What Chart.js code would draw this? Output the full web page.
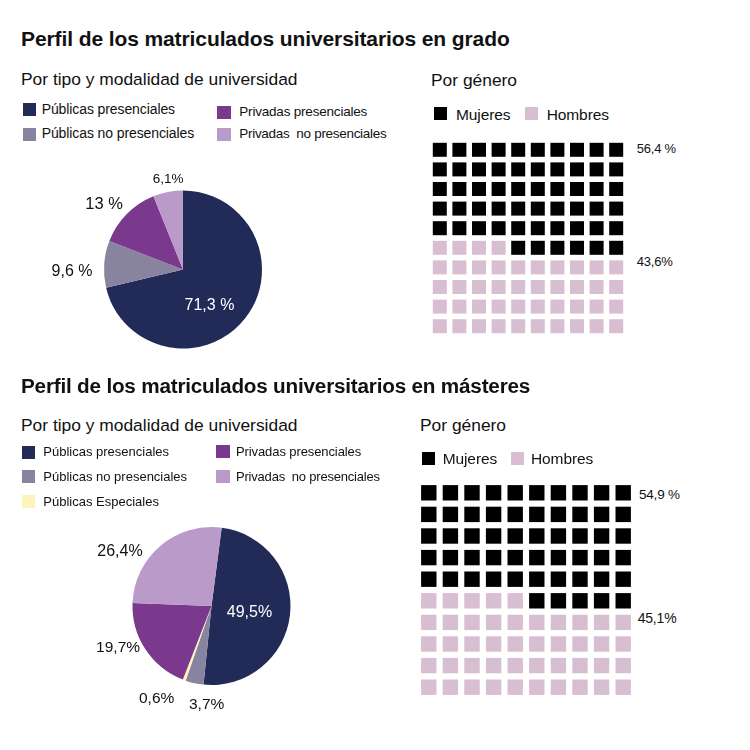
<!DOCTYPE html>
<html><head><meta charset="utf-8">
<script src="https://cdn.jsdelivr.net/npm/chart.js@4"></script>
<style>
body{margin:0;width:750px;height:750px;background:#fff;position:relative;font-family:"Liberation Sans",Arial,sans-serif;color:#111;overflow:hidden}
.t{position:absolute;white-space:pre;margin:0}
.sw{position:absolute}
canvas{position:absolute}
</style></head><body>
<canvas id="pie1" width="366" height="239" style="left:0;top:150px"></canvas>
<canvas id="pie2" width="423" height="240" style="left:0;top:486px"></canvas>
<canvas id="waf1" width="196" height="196" style="left:430px;top:140px"></canvas>
<canvas id="waf2" width="216" height="216" style="left:418px;top:482px"></canvas>
<script>
// ---- data ----
const titles = ['Perfil de los matriculados universitarios en grado','Perfil de los matriculados universitarios en másteres'];
const subTitle = 'Por tipo y modalidad de universidad';
const genderTitle = 'Por género';
const pieCats1 = ['Públicas presenciales','Públicas no presenciales','Privadas presenciales','Privadas  no presenciales'];
const pieVals1 = [71.3, 9.6, 13, 6.1];
const pieText1 = ['71,3 %','9,6 %','13 %','6,1%'];
const pieCats2 = ['Públicas presenciales','Públicas no presenciales','Públicas Especiales','Privadas presenciales','Privadas  no presenciales'];
const pieVals2 = [49.5, 3.7, 0.6, 19.7, 26.4];
const pieText2 = ['49,5%','3,7%','0,6%','19,7%','26,4%'];
const genderCats = ['Mujeres','Hombres'];
const gender1 = [56.4, 43.6];
const gender2 = [54.9, 45.1];
const genderText1 = ['56,4 %','43,6%'];
const genderText2 = ['54,9 %','45,1%'];

// ---- styles ----
const C = {navy:'#222b58',gray:'#88839f',purple:'#7a398d',light:'#b99ac9',yellow:'#fdf3bd',black:'#000000',pink:'#d7bed1'};
const pieCols1 = [C.navy,C.gray,C.purple,C.light];
const pieCols2 = [C.navy,C.gray,C.yellow,C.purple,C.light];
const genderCols = [C.black,C.pink];

function txt(s,x,base,fs,opt={}){
  const d=document.createElement('div');d.className='t';d.textContent=s;
  const lh=fs*1.15;
  d.style.font=(opt.bold?'bold ':'')+fs+'px "Liberation Sans",Arial,sans-serif';
  d.style.lineHeight=lh+'px';
  d.style.left=x+'px';
  d.style.top=(base-0.905*fs-(lh-1.117*fs)/2)+'px';
  if(opt.ls!==undefined)d.style.letterSpacing=opt.ls+'px';
  if(opt.color)d.style.color=opt.color;
  document.body.appendChild(d);
}
function sq(x,y,w,h,c){const d=document.createElement('div');d.className='sw';
  Object.assign(d.style,{left:x+'px',top:y+'px',width:w+'px',height:h+'px',background:c});document.body.appendChild(d);}

// headings
txt(titles[0],21,46.7,21,{bold:true,ls:-0.1});
txt(subTitle,21,85,17.4,{ls:0});
txt(genderTitle,431,86,17.4,{ls:0});
txt(titles[1],21,392.7,20.7,{bold:true,ls:-0.2});
txt(subTitle,21,431,17.4,{ls:0});
txt(genderTitle,420,430.7,17.4,{ls:0});

// pie legends (layout: [swatchX, swatchY, textX, baseline, fontSize, letterSpacing])
const legLay1=[[22.5,103,41.7,114.3,14,-0.1],[22.5,128,41.7,138.3,14,-0.1],[217,106,239.3,116.7,13.5,-0.2],[217,128,239.3,138.7,13.5,-0.3]];
pieCats1.forEach((c,i)=>{const l=legLay1[i];sq(l[0],l[1],13.5,12.5,pieCols1[i]);txt(c,l[2],l[3],l[4],{ls:l[5]});});
const legLay2=[[21.7,446,43.3,457.3,13,0],[21.7,470,43.3,481.7,13,0],[21.7,495,43.3,506.7,13,0],[216,445,236,456.7,13,-0.1],[216,470,236,481.7,13,-0.2]];
pieCats2.forEach((c,i)=>{const l=legLay2[i];sq(l[0],l[1],13.5,13,pieCols2[i]);txt(c,l[2],l[3],l[4],{ls:l[5]});});

// gender legends
const gLay1=[[434.3,106.7,456,120],[525,106.7,546.7,120]];
const gLay2=[[422.3,451.7,442.7,464.3],[510.5,451.7,531,464.3]];
genderCats.forEach((c,i)=>{let l=gLay1[i];sq(l[0],l[1],13,13.5,genderCols[i]);txt(c,l[2],l[3],15.5,{ls:-0.1});
  l=gLay2[i];sq(l[0],l[1],13,13,genderCols[i]);txt(c,l[2],l[3],15.5,{ls:-0.1});});

// gender value labels
txt(genderText1[0],636.7,154.3,13,{ls:-0.2});
txt(genderText1[1],636.7,267.3,13,{ls:-0.2});
txt(genderText2[0],639,499.3,13.5,{ls:-0.2});
txt(genderText2[1],637.7,623.3,14,{ls:-0.2});

// ---- pie label plugin ----
const pieLabelPlugin={id:'pieLabels',afterDatasetsDraw(chart,args,o){
  const ctx=chart.ctx,meta=chart.getDatasetMeta(0);
  meta.data.forEach((arc,i)=>{
    const p=arc.getProps(['x','y','startAngle','endAngle'],true);
    const a=(p.startAngle+p.endAngle)/2+o.offsets[i]*Math.PI/180;
    const lx=p.x+Math.cos(a)*o.dists[i], ly=p.y+Math.sin(a)*o.dists[i];
    ctx.save();ctx.font=o.sizes[i]+'px "Liberation Sans",Arial,sans-serif';
    ctx.fillStyle=o.colors[i];ctx.textAlign='center';ctx.textBaseline='alphabetic';
    ctx.fillText(o.texts[i],lx,ly+0.36*o.sizes[i]);ctx.restore();
  });
}};
function pie(id,cats,vals,cols,rot,lab){
  new Chart(document.getElementById(id),{type:'pie',
    data:{labels:cats,datasets:[{data:vals,backgroundColor:cols,borderWidth:0}]},
    options:{responsive:false,animation:false,events:[],radius:79,rotation:rot,
      layout:{padding:0,autoPadding:false},plugins:{legend:{display:false},tooltip:{enabled:false},pieLabels:lab}},
    plugins:[pieLabelPlugin]});
}
pie('pie1',pieCats1,pieVals1,pieCols1,0,{texts:pieText1,offsets:[14.2,-4.3,-4.5,1.7],dists:[43.5,111,103.3,92.7],
  sizes:[16,16,16.5,13.5],colors:['#fff','#111','#111','#111']});
pie('pie2',pieCats2,pieVals2,pieCols2,7.4,{texts:pieText2,offsets:[0.6,-9.6,10.8,9.6,-18.3],dists:[38.3,97.9,106.5,102,107.4],
  sizes:[16,15.5,15.5,15.5,16],colors:['#fff','#111','#111','#111','#111']});

// ---- waffles ----
function waffle(id,vals,side){
  const n=Math.round(vals[1]); // hombres cells fill from bottom-left
  const cells=[[],[]];
  for(let i=0;i<100;i++){const pt={x:i%10,y:Math.floor(i/10)};(i<n?cells[1]:cells[0]).push(pt);}
  const r=side/(2*Math.SQRT1_2);
  new Chart(document.getElementById(id),{type:'scatter',
    data:{datasets:genderCats.map((c,k)=>({label:c,data:cells[k],pointStyle:'rect',pointRadius:r,
      backgroundColor:genderCols[k],borderWidth:0,pointBorderWidth:0}))},
    options:{responsive:false,animation:false,events:[],layout:{padding:0,autoPadding:false},
      scales:{x:{display:false,min:-0.5,max:9.5},y:{display:false,min:-0.5,max:9.5}},
      plugins:{legend:{display:false},tooltip:{enabled:false}}}});
}
waffle('waf1',gender1,14);
waffle('waf2',gender2,15.4);
</script>
</body></html>
